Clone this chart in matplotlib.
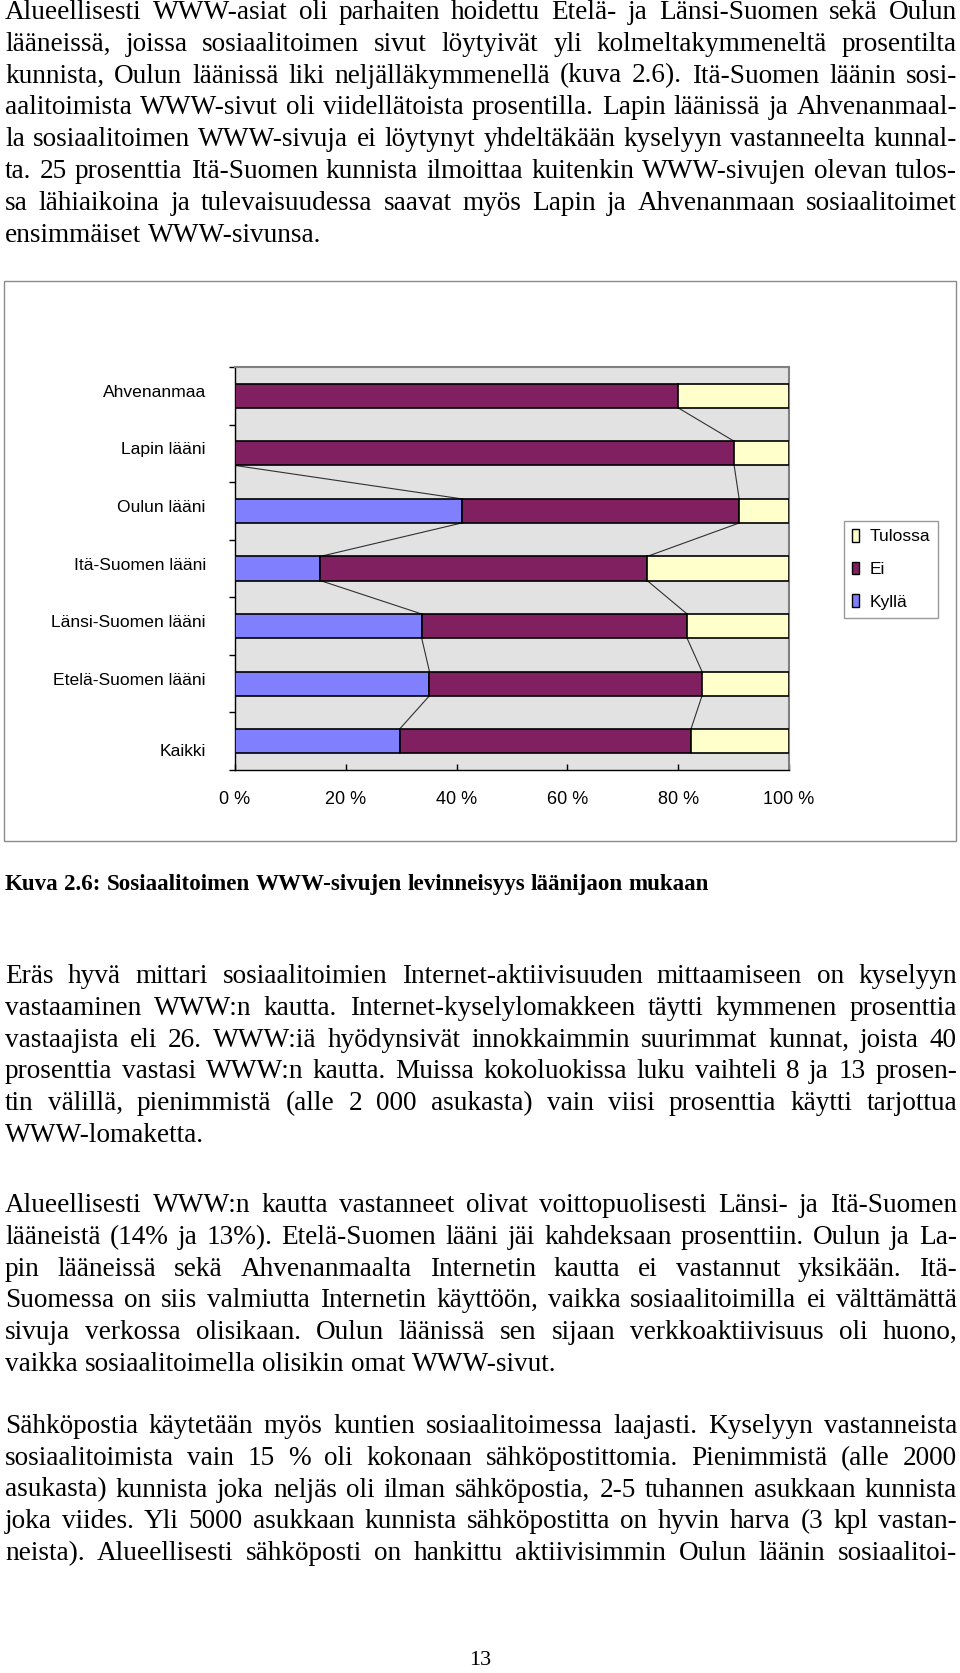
import matplotlib
matplotlib.use("Agg")
import matplotlib.pyplot as plt
from matplotlib.patches import Rectangle, Patch
from matplotlib.transforms import IdentityTransform, ScaledTranslation
import numpy as np

W, H = 960, 1673
DPI = 100

# Kuvan 2.6 tiedot, alhaalta ylös
laanit = ["Kaikki", "Etelä-Suomen lääni", "Länsi-Suomen lääni", "Itä-Suomen lääni",
          "Oulun lääni", "Lapin lääni", "Ahvenanmaa"]
kylla = [29.7, 35.1, 33.7, 15.4, 40.9, 0.0, 0.0]
ei = [52.6, 49.2, 47.9, 59.0, 50.1, 90.1, 80.0]
tulossa = [17.7, 15.7, 18.4, 25.6, 9.0, 9.9, 20.0]
sarjat = ["Kyllä", "Ei", "Tulossa"]
x_arvot = [0, 20, 40, 60, 80, 100]
x_tekstit = ["0 %", "20 %", "40 %", "60 %", "80 %", "100 %"]

kappale1 = [
    "Alueellisesti WWW-asiat oli parhaiten hoidettu Etelä- ja Länsi-Suomen sekä Oulun",
    "lääneissä, joissa sosiaalitoimen sivut löytyivät yli kolmeltakymmeneltä prosentilta",
    "kunnista, Oulun läänissä liki neljälläkymmenellä (kuva 2.6). Itä-Suomen läänin sosi-",
    "aalitoimista WWW-sivut oli viidellätoista prosentilla. Lapin läänissä ja Ahvenanmaal-",
    "la sosiaalitoimen WWW-sivuja ei löytynyt yhdeltäkään kyselyyn vastanneelta kunnal-",
    "ta. 25 prosenttia Itä-Suomen kunnista ilmoittaa kuitenkin WWW-sivujen olevan tulos-",
    "sa lähiaikoina ja tulevaisuudessa saavat myös Lapin ja Ahvenanmaan sosiaalitoimet",
    "ensimmäiset WWW-sivunsa.",
]
kuvateksti = "Kuva 2.6: Sosiaalitoimen WWW-sivujen levinneisyys läänijaon mukaan"
kappale2 = [
    "Eräs hyvä mittari sosiaalitoimien Internet-aktiivisuuden mittaamiseen on kyselyyn",
    "vastaaminen WWW:n kautta. Internet-kyselylomakkeen täytti kymmenen prosenttia",
    "vastaajista eli 26. WWW:iä hyödynsivät innokkaimmin suurimmat kunnat, joista 40",
    "prosenttia vastasi WWW:n kautta. Muissa kokoluokissa luku vaihteli 8 ja 13 prosen-",
    "tin välillä, pienimmistä (alle 2 000 asukasta) vain viisi prosenttia käytti tarjottua",
    "WWW-lomaketta.",
]
kappale3 = [
    "Alueellisesti WWW:n kautta vastanneet olivat voittopuolisesti Länsi- ja Itä-Suomen",
    "lääneistä (14% ja 13%). Etelä-Suomen lääni jäi kahdeksaan prosenttiin. Oulun ja La-",
    "pin lääneissä sekä Ahvenanmaalta Internetin kautta ei vastannut yksikään. Itä-",
    "Suomessa on siis valmiutta Internetin käyttöön, vaikka sosiaalitoimilla ei välttämättä",
    "sivuja verkossa olisikaan. Oulun läänissä sen sijaan verkkoaktiivisuus oli huono,",
    "vaikka sosiaalitoimella olisikin omat WWW-sivut.",
]
kappale4 = [
    "Sähköpostia käytetään myös kuntien sosiaalitoimessa laajasti. Kyselyyn vastanneista",
    "sosiaalitoimista vain 15 % oli kokonaan sähköpostittomia. Pienimmistä (alle 2000",
    "asukasta) kunnista joka neljäs oli ilman sähköpostia, 2-5 tuhannen asukkaan kunnista",
    "joka viides. Yli 5000 asukkaan kunnista sähköpostitta on hyvin harva (3 kpl vastan-",
    "neista). Alueellisesti sähköposti on hankittu aktiivisimmin Oulun läänin sosiaalitoi-",
]
sivunumero = "13"

SERIF = ["Liberation Serif", "DejaVu Serif"]
SANS = ["Liberation Sans", "DejaVu Sans"]
VASEN, OIKEA = 5, 957
RIVIVALI = 31.8
KOKO = 19.6

fig = plt.figure(figsize=(W / DPI, H / DPI), dpi=DPI)
fig.patch.set_facecolor("white")
r = fig.canvas.get_renderer()


def valilyonti(**kw):
    a = fig.text(0, 0, "x x", **kw)
    b = fig.text(0, 0, "xx", **kw)
    w = a.get_window_extent(r).width - b.get_window_extent(r).width
    a.remove()
    b.remove()
    return w


def rivi(teksti, y, tasaa, **kw):
    sanat = teksti.split(" ")
    osat = [fig.text(0, 0, s, transform=IdentityTransform(), ha="left",
                     va="baseline", **kw) for s in sanat]
    lev = [t.get_window_extent(r).width for t in osat]
    if tasaa and len(sanat) > 1:
        vali = (OIKEA - VASEN - sum(lev)) / (len(sanat) - 1)
    else:
        vali = valilyonti(**kw)
    x = VASEN
    for t, w in zip(osat, lev):
        t.set_position((x, H - y))
        x += w + vali


def kappale(rivit, y0, viimeinen_tasattu=False):
    for i, teksti in enumerate(rivit):
        tasaa = i < len(rivit) - 1 or viimeinen_tasattu
        rivi(teksti, y0 + i * RIVIVALI, tasaa, family=SERIF, fontsize=KOKO)


kappale(kappale1, 19)
rivi(kuvateksti, 890, False, family=SERIF, fontsize=16.6, fontweight="bold")
kappale(kappale2, 983)
kappale(kappale3, 1212)
kappale(kappale4, 1433, viimeinen_tasattu=True)
fig.text(480, 3, sivunumero, transform=IdentityTransform(), ha="center",
         va="bottom", family=SERIF, fontsize=16)

# kaavion kehys
fig.add_artist(Rectangle((4, H - 841), 952, 560, transform=IdentityTransform(),
                         fill=False, edgecolor="#8a8a8a", lw=1.0))

ax = fig.add_axes([235 / W, 1 - 770 / H, (789 - 235) / W, (770 - 367) / H])
ax.set_facecolor("#e2e2e2")
y = np.arange(len(laanit))
k = np.array(kylla)
e = np.array(ei)
t = np.array(tulossa)
h = 0.42
varit = {"Kyllä": "#8080ff", "Ei": "#812060", "Tulossa": "#ffffcc"}
ax.barh(y, k, height=h, color=varit["Kyllä"], edgecolor="black", lw=1.2, zorder=3)
ax.barh(y, e, left=k, height=h, color=varit["Ei"], edgecolor="black", lw=1.2, zorder=3)
ax.barh(y, t, left=k + e, height=h, color=varit["Tulossa"], edgecolor="black", lw=1.2, zorder=3)

# sarjaviivat
for c in (k, k + e):
    for i in range(len(laanit) - 1):
        ax.plot([c[i + 1], c[i]], [i + 1 - h / 2, i + h / 2], color="#303030",
                lw=0.8, zorder=2)

ax.set_xlim(0, 100)
ax.set_ylim(-0.5, len(laanit) - 0.5)
ax.set_xticks(x_arvot)
ax.set_xticklabels(x_tekstit, family=SANS, fontsize=13)
ax.tick_params(axis="x", direction="in", length=4, width=1, pad=15)
ax.set_yticks(y)
ax.set_yticklabels(laanit, family=SANS, fontsize=12.6)
ax.tick_params(axis="y", which="major", length=0, pad=21)
ax.set_yticks(np.arange(-0.5, len(laanit)), minor=True)
ax.tick_params(axis="y", which="minor", direction="out", length=4, width=1)
for i, lab in enumerate(ax.get_yticklabels()):
    dy = -9 if i == 0 else 5
    lab.set_transform(lab.get_transform() + ScaledTranslation(0, dy / DPI, fig.dpi_scale_trans))
for s in ("left", "bottom"):
    ax.spines[s].set_color("black")
    ax.spines[s].set_linewidth(1.0)
for s in ("top", "right"):
    ax.spines[s].set_color("#808080")
    ax.spines[s].set_linewidth(1.5)

kahvat = [Patch(facecolor=varit[s], edgecolor="black", lw=1.0) for s in sarjat[::-1]]
leg = fig.legend(handles=kahvat, labels=sarjat[::-1], loc="upper left",
                 bbox_to_anchor=(844 / W, 1 - 521 / H), bbox_transform=fig.transFigure,
                 borderaxespad=0, fancybox=False, frameon=True, edgecolor="#808080",
                 prop={"family": SANS, "size": 12.5}, handlelength=0.4, handleheight=0.75,
                 handletextpad=0.6, borderpad=0.45, labelspacing=1.0)
leg.get_frame().set_linewidth(1.0)

fig.savefig("out.png", dpi=DPI)
